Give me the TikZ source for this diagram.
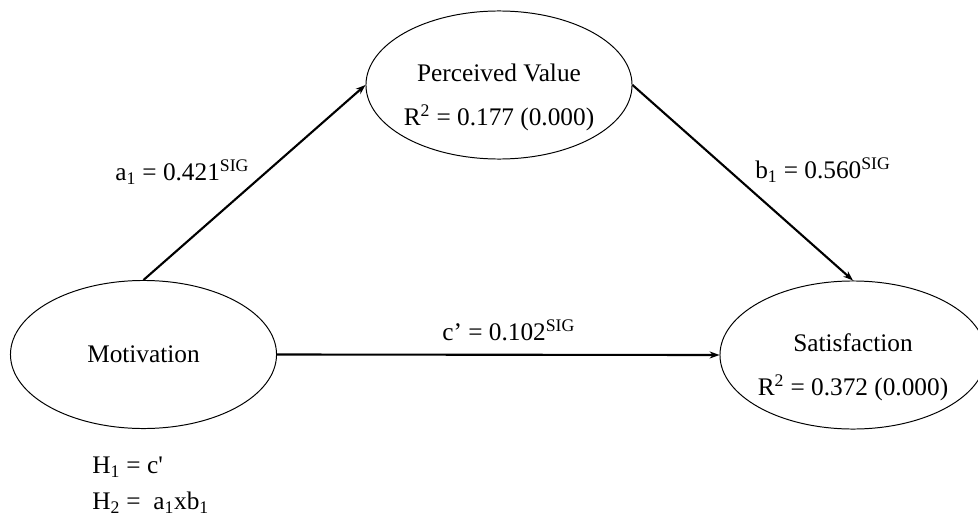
\documentclass[tikz,border=0pt]{standalone}
\usepackage{fontspec}
\setmainfont{Liberation Serif}
\usepackage{tikz}
\usetikzlibrary{positioning}
\usetikzlibrary{arrows.meta}
\usetikzlibrary{shapes.geometric}

\begin{document}
\begin{tikzpicture}[x=0.025cm, y=-0.025cm,
  font=\fontsize{18}{22}\selectfont,
  latent/.style={draw, ellipse, line width=0.7pt, inner sep=0pt, minimum width=6.65cm, minimum height=3.7cm},
  effect/.style={-{Stealth[length=7pt, width=5pt]}, line width=1.5pt}]
  \useasboundingbox (0,0) rectangle (978,519);
  \node (mot) [latent] at (143.5,354.5) {};
  \node (pv) [latent] at (499,85) {};
  \node (sat) [latent] at (853,355) {};
  % texts in the ellipses
  \node (motT) at (mot.center) {Motivation};
  \node (pvT) at (499,73) {Perceived Value};
  \node (pvR) at (499,118) {R\textsuperscript{2} = 0.177 (0.000)};
  \node (satT) at (853,343) {Satisfaction};
  \node (satR) at (853,388) {R\textsuperscript{2} = 0.372 (0.000)};
  % paths
  \draw[effect] (mot.north) -- (pv.west);
  \draw[effect] (pv.east) -- (sat.north);
  \draw[effect] (mot.east) -- (sat.west);
  \node (a1) [anchor=west, inner sep=0pt] at (115,172) {a\textsubscript{1} = 0.421\textsuperscript{SIG}};
  \node (b1) [anchor=west, inner sep=0pt] at (755,170) {b\textsubscript{1} = 0.560\textsuperscript{SIG}};
  \node (c1) [anchor=west, inner sep=0pt] at (442,330) {c’ = 0.102\textsuperscript{SIG}};
  % hypotheses
  \node (h1) [anchor=west, inner sep=0pt] at (92,467) {H\textsubscript{1} = c\textquotesingle};
  \node (h2) [anchor=west, inner sep=0pt] at (92,503) {H\textsubscript{2} = \ a\textsubscript{1}xb\textsubscript{1}};
\end{tikzpicture}
\end{document}
